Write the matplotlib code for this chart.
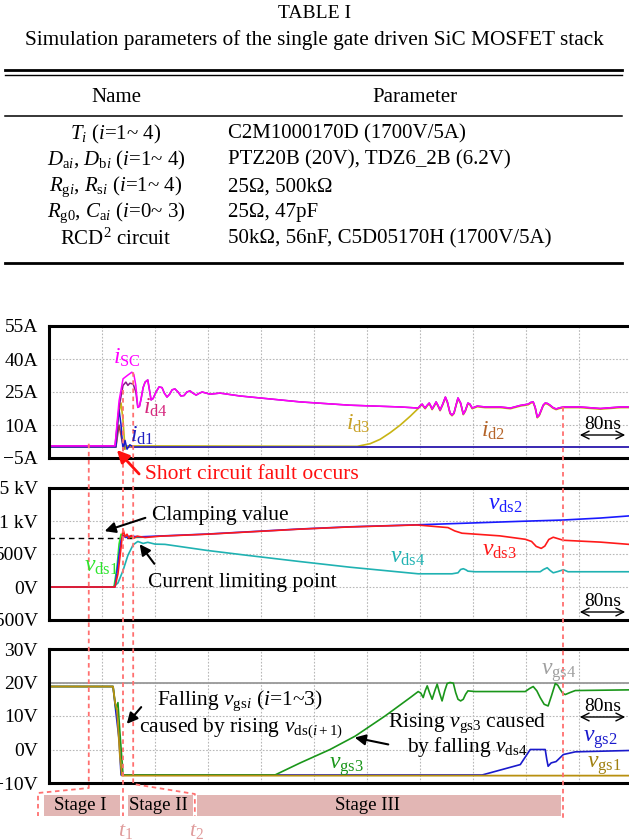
import matplotlib
matplotlib.use('Agg')
import matplotlib.pyplot as plt
import numpy as np
from matplotlib.patches import Rectangle

plt.rcParams['font.family'] = ['Liberation Serif', 'DejaVu Serif']
plt.rcParams['mathtext.fontset'] = 'custom'
plt.rcParams['mathtext.rm'] = 'Liberation Serif'
plt.rcParams['mathtext.it'] = 'Liberation Serif:italic'
plt.rcParams['mathtext.bf'] = 'Liberation Serif:bold'

# ---------------- table ----------------
table_title = 'TABLE I'
table_caption = 'Simulation parameters of the single gate driven SiC MOSFET stack'
table_header = ['Name', 'Parameter']
table_names = [r'$T_i$ ($i$=1~ 4)',
               r'$D_{{\rm a}i}$, $D_{{\rm b}i}$ ($i$=1~ 4)',
               r'$R_{{\rm g}i}$, $R_{{\rm s}i}$ ($i$=1~ 4)',
               r'$R_{\rm g0}$, $C_{{\rm a}i}$ ($i$=0~ 3)',
               r'RCD$^2$ circuit']
table_params = ['C2M1000170D (1700V/5A)',
                'PTZ20B (20V), TDZ6_2B (6.2V)',
                '25Ω, 500kΩ',
                '25Ω, 47pF',
                '50kΩ, 56nF, C5D05170H (1700V/5A)']

# ---------------- waveforms (time in ns) ----------------
# panel 1: currents (A)
isc_t = [0, 99.6, 105.7, 111.7, 119, 125, 128, 131, 134, 136.5, 139, 142, 145, 149, 151.5, 154,
         157, 161.5, 166, 170.5, 174, 178, 182, 185.7, 190, 194.7, 199, 203.8, 208, 212.8, 217,
         222, 226, 231, 243, 258, 288, 318, 379, 454, 530, 557,
         560, 563, 565, 567.5, 570, 573.6, 576, 578, 581, 584, 587, 590, 594, 598, 601, 605, 608,
         611, 614, 617, 621, 625, 628, 632, 635, 638.5, 646, 658, 680.7, 696, 711, 723, 727, 730.5,
         733.5, 736.6, 739.5, 742.6, 745.5, 748.6, 752, 756, 760, 765, 770, 776, 801.5, 831.7, 862, 875]
isc_v = [0.5, 0.5, 21, 31, 32.7, 34, 33, 28, 18, 18.5, 22, 27, 29.5, 30.5, 26, 21.4,
         22, 25, 27.3, 27, 24.5, 22.7, 24, 26, 26.4, 25, 23.2, 23.4, 25, 25.5, 24.5,
         23.6, 24.3, 25, 24, 24.5, 23.2, 22.3, 20.5, 19, 18.2, 17.7,
         18.8, 19.5, 18.6, 17.7, 18.8, 20, 18.6, 17.3, 18.8, 20.5, 18.8, 16.8, 19.5, 22.7, 20.5, 15.5, 14.5,
         15.5, 19, 22.3, 20, 15, 16.5, 20, 19.5, 17.7, 18.6, 18.2, 18.2, 17.7, 18.9, 19.5, 20.3, 20.5,
         18, 13.6, 14.5, 16.8, 19, 20, 19.8, 19, 18, 17.3, 17.8, 18.2, 18.2, 17.5, 18.2, 18.2]

id4_t = [0, 99.6, 105.7, 111.7, 116, 119, 122, 127, 131] + isc_t[8:]
id4_v = [0.5, 0.5, 18, 28, 29.5, 28, 29, 28.6, 25] + isc_v[8:]

id1_t = [0, 101, 104, 105.7, 108.7, 111.7, 114.7, 117.7, 122, 127, 875]
id1_v = [0, 0, 12, 17, 10, -1.5, 3, -1, 1, 0, 0]

id3_t = [0, 101, 104, 108.7, 111.7, 114.7, 117.7, 465, 484.5, 499.6, 514.7, 530, 545, 557] + isc_t[42:]
id3_v = [0, 0, 14, 20, 12, -1, 0.5, 0.3, 1.5, 3.5, 6.5, 10, 14, 17.5] + [v - 0.3 for v in isc_v[42:]]

id2_t = [0, 101, 105.7, 110, 113, 117.7, 875]
id2_v = [0, 0, 10, 3, -1, 0, 0]

# panel 2: drain-source voltages (V)
vds1_t = [0, 98, 102.6, 105.7, 108.7, 111.7, 117.7, 127, 145]
vds1_v = [0, 0, 300, 650, 800, 780, 760, 750, 755]

vds3_t = [0, 99.6, 104, 108.7, 111.7, 114.7, 117.7, 120.7, 124, 128, 133, 145, 167.5, 238.5, 379,
          454, 555, 590, 602, 612, 623, 680, 718.5, 728, 735, 742.6, 748, 754, 760.7, 776, 832, 875]
vds3_v = [0, 0, 200, 600, 877, 760, 800, 740, 780, 740, 770, 750, 770, 800, 877,
          910, 940, 910, 900, 850, 815, 775, 723, 690, 615, 585, 620, 720, 754, 708, 680, 646]

vds2_t = [0, 99.6, 104, 108.7, 111.7, 116, 122, 137, 238.5, 379, 454, 555, 638, 711, 776, 832, 875]
vds2_v = [0, 0, 350, 700, 780, 750, 770, 760, 802, 879, 912, 942, 970, 995, 1015, 1045, 1077]

vds4_t = [0, 96.6, 104, 111.7, 119, 127, 134, 142, 149, 160, 175, 238.5, 303, 379, 454, 557,
          608, 617, 621, 625, 629, 632, 643, 741, 746, 751.6, 756, 760.7, 768, 776, 783, 875]
vds4_v = [0, 0, 60, 250, 480, 640, 690, 660, 677, 650, 646, 554, 475, 385, 300, 200,
          200, 215, 265, 277, 260, 240, 231, 231, 265, 292, 250, 215, 235, 262, 231, 231]

clamp_level = 738
clamp_end = 125

# panel 3: gate-source voltages (V)
vgs4_t = [0, 875]
vgs4_v = [19.8, 19.8]

vgs1_t = [0, 96.6, 99.6, 102.6, 107, 110, 875]
vgs1_v = [18.8, 18.8, 14, 12, -2, -7.8, -7.8]

vgs2_t = [0, 96.6, 101, 105.7, 108.7, 653.6, 711, 726, 748.6, 751, 753, 757.6, 765, 776, 794, 875]
vgs2_v = [18.8, 18.8, 11, 3, -7.6, -7.6, -4.5, 0, 0, -3, -5, -4, -3.6, -1.5, -0.7, -0.3]

vgs3_t = [0, 96.6, 101, 104, 107, 111.7, 341, 379, 424, 462, 507, 545, 557, 561, 564.5, 567.5, 570.6,
          574, 578, 582, 585.6, 589, 593, 597, 600.7, 605, 610, 613.5, 617, 621, 625, 628.5, 632, 643,
          718.5, 725, 730.5, 736, 741, 747, 753, 758, 763.8, 767.5, 771, 775, 778.8, 786, 794, 875]
vgs3_v = [18.8, 18.8, 12, 14, 5, -7.6, -7.6, -4, 0, 4, 10, 15.5, 17.3, 16.8, 15.5, 17.5, 19,
          17, 15, 17.5, 19.5, 17, 14.5, 17.5, 19.7, 20, 19.8, 17, 15, 14.5, 15, 16.5, 17.5, 17.3,
          17.3, 18.2, 18.8, 17.5, 15.5, 13.5, 13, 16, 19.7, 19.2, 18, 16.8, 16.4, 17, 17.6, 17.8]

# event markers and stages (ns)
mark_t = [60, 112, 127, 776]
mark_top = [1.5, 26, 34, 18]          # start level in panel 1 (A)
stage_names = ['Stage I', 'Stage II', 'Stage III']
stage_start = [-7.5, 119, 223]
stage_end = [107, 217, 773]
stage_label_t = [47, 165, 480]

# ---------------- figure ----------------
W, H = 629, 839
fig = plt.figure(figsize=(W / 100, H / 100), dpi=100)


def panel(top, bottom):
    ax = fig.add_axes([49 / W, 1 - bottom / H, 1 - 49 / W, (bottom - top) / H])
    ax.set_xlim(0, 875)
    ax.set_xticks(np.arange(80, 875, 80))
    ax.set_xticklabels([])
    ax.grid(True, color='#b8b8b8', linestyle=(0, (1.5, 1.5)), linewidth=0.8)
    ax.tick_params(length=0, labelsize=14, pad=8)
    for s in ['top', 'bottom', 'left']:
        ax.spines[s].set_linewidth(2.2)
    ax.spines['right'].set_visible(False)
    return ax


ax1 = panel(326, 458)
ax1.set_ylim(-5, 55)
ax1.set_yticks([-5, 10, 25, 40, 55])
ax1.set_yticklabels(['−5A', '10A', '25A', '40A', '55A'])
ax1.plot(id2_t, id2_v, color='#a0403a', lw=1.1)
ax1.plot(id3_t, id3_v, color='#c8b414', lw=1.2)
ax1.plot(id1_t, id1_v, color='#1a1acc', lw=1.1)
ax1.plot(id4_t, id4_v, color='#8b1c8b', lw=1.1)
ax1.plot(isc_t, isc_v, color='#ff00ff', lw=1.1)

ax2 = panel(488, 620)
ax2.set_ylim(-500, 1500)
ax2.set_yticks([-500, 0, 500, 1000, 1500])
ax2.set_yticklabels(['−500V', '0V', '500V', '1 kV', '1.5 kV'])
ax2.plot([0, clamp_end], [clamp_level, clamp_level], color='k', lw=1, linestyle=(0, (4, 3)))
ax2.plot(vds4_t, vds4_v, color='#20b2b2', lw=1.2)
ax2.plot(vds1_t, vds1_v, color='#2ee62e', lw=1.2)
ax2.plot(vds2_t, vds2_v, color='#1a1aff', lw=1.2)
ax2.plot(vds3_t, vds3_v, color='#ff1a1a', lw=1.2)

ax3 = panel(649, 783)
ax3.set_ylim(-10, 30)
ax3.set_yticks([-10, 0, 10, 20, 30])
ax3.set_yticklabels(['−10V', '0V', '10V', '20V', '30V'])
ax3.plot(vgs4_t, vgs4_v, color='#999999', lw=1.3)
ax3.plot(vgs2_t, vgs2_v, color='#1a1acc', lw=1.2)
ax3.plot(vgs3_t, vgs3_v, color='#1a961a', lw=1.2)
ax3.plot(vgs1_t, vgs1_v, color='#b8900f', lw=1.3)

# overlay in pixel coordinates
ov = fig.add_axes([0, 0, 1, 1], zorder=10)
ov.set_xlim(0, W)
ov.set_ylim(H, 0)
ov.axis('off')
ov.patch.set_alpha(0)
fig.canvas.draw()


def px(t):
    return ax1.transData.transform((t, 0))[0]


def py(ax, v):
    return H - ax.transData.transform((0, v))[1]


# table
ov.text(W / 2, 13, table_title, ha='center', va='center', fontsize=14)
ov.text(W / 2, 40, table_caption, ha='center', va='center', fontsize=15.3)
ov.plot([5, 622], [70, 70], color='k', lw=2)
ov.plot([5, 622], [74.5, 74.5], color='k', lw=1)
ov.plot([5, 622], [116, 116], color='k', lw=1.1)
ov.plot([5, 622], [263, 263], color='k', lw=2)
ov.text(116, 97, table_header[0], ha='center', va='center', fontsize=15)
ov.text(415, 97, table_header[1], ha='center', va='center', fontsize=15)
for k, (nm, pr) in enumerate(zip(table_names, table_params)):
    yy = 134 + k * 26.3
    ov.text(116, yy, nm, ha='center', va='center', fontsize=15)
    ov.text(228, yy, pr, ha='left', va='center', fontsize=15)

# dashed event lines and brackets
red_d = '#ff7070'
ls_d = (0, (2.5, 2))
xs = [px(t) for t in mark_t]
tops = [py(ax1, v) for v in mark_top]
ov.plot([xs[0], xs[0], px(-16.6), px(-16.6)], [tops[0], 788, 793, 816], color=red_d, lw=1.3, ls=ls_d)
ov.plot([xs[1], xs[1]], [tops[1], 816], color=red_d, lw=1.3, ls=ls_d)
ov.plot([xs[2], xs[2], px(220), px(220)], [tops[2], 784, 794, 816], color=red_d, lw=1.3, ls=ls_d)
ov.plot([xs[3], xs[3]], [tops[3], 819], color=red_d, lw=1.3, ls=ls_d)

for nm, s0, s1, lt in zip(stage_names, stage_start, stage_end, stage_label_t):
    ov.add_patch(Rectangle((px(s0), 795), px(s1) - px(s0), 21, color='#e2b6b4', lw=0, zorder=1))
    ov.text(px(lt), 806, nm, ha='center', va='center', fontsize=13.5)
ov.text(xs[1] + 2, 836, r'$t_1$', ha='center', va='baseline', fontsize=16, color='#e09c9c')
ov.text(px(220) + 2, 836, r'$t_2$', ha='center', va='baseline', fontsize=16, color='#e09c9c')

# labels panel 1
ov.text(113, 364, r'$i_{\rm SC}$', color='#ff00ff', fontsize=17, va='baseline')
ov.text(143, 414, r'$i_{\rm d4}$', color='#d6287e', fontsize=17, va='baseline')
ov.text(130, 442, r'$i_{\rm d1}$', color='#2020c0', fontsize=17, va='baseline')
ov.text(346, 430, r'$i_{\rm d3}$', color='#c9a227', fontsize=17, va='baseline')
ov.text(481, 437, r'$i_{\rm d2}$', color='#b5652a', fontsize=17, va='baseline')
ov.text(145, 479, 'Short circuit fault occurs', color='#ff1010', fontsize=15.5, va='baseline')
ov.annotate('', xy=(115, 448), xytext=(141, 476),
            arrowprops=dict(arrowstyle='-|>', color='#ff1010', lw=2, mutation_scale=18))

# labels panel 2
ov.text(84, 572, r'$v_{\rm ds1}$', color='#2ee62e', fontsize=17, va='baseline')
ov.text(488, 510, r'$v_{\rm ds2}$', color='#1a1aff', fontsize=17, va='baseline')
ov.text(482, 556, r'$v_{\rm ds3}$', color='#ff1a1a', fontsize=17, va='baseline')
ov.text(390, 563, r'$v_{\rm ds4}$', color='#20b2b2', fontsize=17, va='baseline')
ov.text(152, 520, 'Clamping value', fontsize=15.5, va='baseline')
ov.annotate('', xy=(102, 532), xytext=(148, 517),
            arrowprops=dict(arrowstyle='-|>', color='k', lw=1.5, mutation_scale=16))
ov.text(148, 587, 'Current limiting point', fontsize=15.5, va='baseline')
ov.annotate('', xy=(138, 542), xytext=(156, 566),
            arrowprops=dict(arrowstyle='-|>', color='k', lw=1.5, mutation_scale=16))

# labels panel 3
ov.text(541, 675, r'$v_{\rm gs4}$', color='#a0a0a0', fontsize=17, va='baseline')
ov.text(329, 769, r'$v_{\rm gs3}$', color='#1a961a', fontsize=17, va='baseline')
ov.text(583, 742, r'$v_{\rm gs2}$', color='#1a1acc', fontsize=17, va='baseline')
ov.text(587, 768, r'$v_{\rm gs1}$', color='#a08010', fontsize=17, va='baseline')
ov.text(157, 705, r'Falling $v_{{\rm gs}i}$ ($i$=1~3)', fontsize=15.5, va='baseline')
ov.text(139, 732, r'caused by rising $v_{{\rm ds}(i+1)}$', fontsize=15.5, va='baseline')
ov.annotate('', xy=(125, 726), xytext=(143, 705),
            arrowprops=dict(arrowstyle='-|>', color='k', lw=1.5, mutation_scale=16))
ov.text(388, 727, r'Rising $v_{\rm gs3}$ caused', fontsize=15.5, va='baseline')
ov.text(407, 752, r'by falling $v_{\rm ds4}$', fontsize=15.5, va='baseline')
ov.annotate('', xy=(352, 737), xytext=(391, 745),
            arrowprops=dict(arrowstyle='-|>', color='k', lw=1.5, mutation_scale=16))

# 80ns scale arrows
for ax, yv in [(ax1, 435), (ax2, 612), (ax3, 717)]:
    ov.annotate('', xy=(628, yv), xytext=(577, yv),
                arrowprops=dict(arrowstyle='<->', color='k', lw=1, mutation_scale=14))
    ov.text(603, yv - 6, '80ns', ha='center', va='baseline', fontsize=14)

fig.savefig('out.png', dpi=100)
